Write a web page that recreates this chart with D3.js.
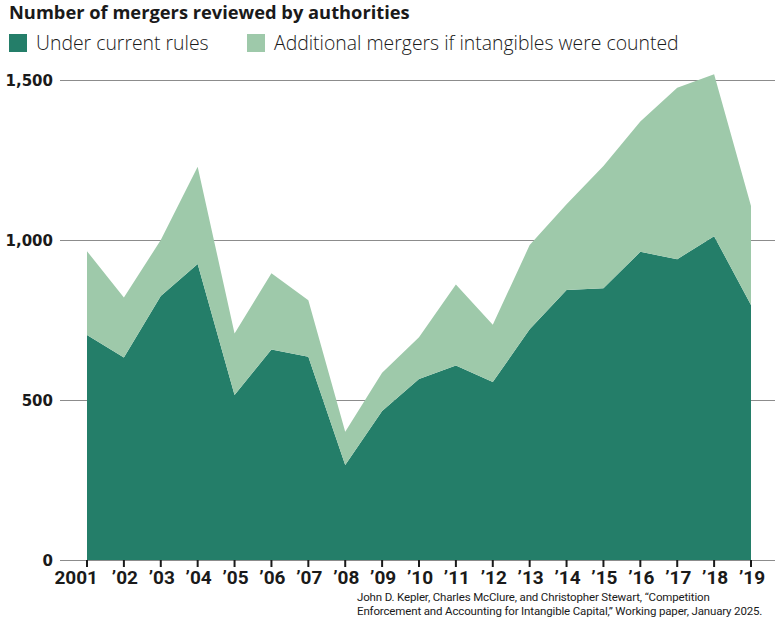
<!DOCTYPE html>
<html>
<head>
<meta charset="utf-8">
<script src="https://cdn.jsdelivr.net/npm/d3@7"></script>
<style>
  body { margin: 0; background: #fff; }
  svg { display: block; }
</style>
</head>
<body>
<script>
// years and values
const years = [2001, 2002, 2003, 2004, 2005, 2006, 2007, 2008, 2009, 2010,
               2011, 2012, 2013, 2014, 2015, 2016, 2017, 2018, 2019];
const current = [703, 633, 825, 925, 516, 658, 635, 297, 466, 566,
                 608, 556, 721, 844, 849, 963, 940, 1012, 797];
const additional = [262, 187, 175, 304, 192, 238, 177, 104, 119, 130,
                    253, 179, 263, 268, 382, 407, 536, 506, 309];
const yTicks = [0, 500, 1000, 1500];
const seriesNames = ['Under current rules', 'Additional mergers if intangibles were counted'];
const colors = ['#247e69', '#9ec9aa'];

const width = 775;
const height = 620;

const svg = d3.select('body').append('svg')
    .attr('width', width)
    .attr('height', height);

const x = d3.scaleLinear().domain([2001, 2019]).range([87, 751]);
const y = d3.scaleLinear().domain([0, 1500]).range([560, 80]);

// 网格线
svg.append('g')
    .selectAll('line')
    .data(yTicks)
    .enter().append('line')
    .attr('x1', 60)
    .attr('x2', width)
    .attr('y1', d => y(d) + 0.5)
    .attr('y2', d => y(d) + 0.5)
    .attr('stroke', '#8c8c8c')
    .attr('stroke-width', 1);

// stacked areas
const table = years.map((yr, i) => ({year: yr, current: current[i], additional: additional[i]}));
const stacked = d3.stack().keys(['current', 'additional'])(table);
const area = d3.area()
    .x(d => x(d.data.year))
    .y0(d => y(d[0]))
    .y1(d => y(d[1]));

svg.append('g')
    .selectAll('path')
    .data(stacked)
    .enter().append('path')
    .attr('fill', (d, i) => colors[i])
    .attr('d', area);

// y labels
svg.append('g')
    .selectAll('text')
    .data(yTicks)
    .enter().append('text')
    .attr('x', 53)
    .attr('y', d => y(d) + 6)
    .attr('text-anchor', 'end')
    .attr('font-family', 'DejaVu Sans')
    .attr('font-weight', 'bold')
    .attr('font-size', 15)
    .attr('fill', '#1a1a1a')
    .text(d3.format(','));

// x axis ticks
svg.append('g')
    .selectAll('line')
    .data(years)
    .enter().append('line')
    .attr('x1', d => x(d))
    .attr('x2', d => x(d))
    .attr('y1', 560)
    .attr('y2', 567)
    .attr('stroke', '#1a1a1a')
    .attr('stroke-width', 2);

svg.append('g')
    .selectAll('text')
    .data(years)
    .enter().append('text')
    .attr('x', (d, i) => i === 0 ? x(d) + 11 : x(d) + 1)
    .attr('y', 584)
    .attr('text-anchor', (d, i) => i === 0 ? 'end' : 'middle')
    .attr('font-family', 'Roboto')
    .attr('font-weight', 'bold')
    .attr('font-size', 19)
    .attr('fill', '#1a1a1a')
    .text((d, i) => i === 0 ? String(d) : '\u2019' + String(d).slice(2));

// title
svg.append('text')
    .attr('x', 9)
    .attr('y', 19)
    .attr('font-family', 'Open Sans')
    .attr('font-weight', 'bold')
    .attr('font-size', 18.3)
    .attr('fill', '#1a1a1a')
    .text('Number of mergers reviewed by authorities');

// legend
const legendX = [9, 247];
const lg = svg.append('g')
    .selectAll('g')
    .data(seriesNames)
    .enter().append('g')
    .attr('transform', (d, i) => `translate(${legendX[i]},34)`);
lg.append('rect')
    .attr('width', 18)
    .attr('height', 18)
    .attr('fill', (d, i) => colors[i]);
lg.append('text')
    .attr('x', 27)
    .attr('y', 16)
    .attr('font-family', 'Open Sans')
    .attr('font-weight', 300)
    .attr('font-size', 19.4)
    .attr('fill', '#1a1a1a')
    .text(d => d);

// source
const sourceLines = [
    'John D. Kepler, Charles McClure, and Christopher Stewart, \u201cCompetition',
    'Enforcement and Accounting for Intangible Capital,\u201d Working paper, January 2025.'
];
svg.append('g')
    .selectAll('text')
    .data(sourceLines)
    .enter().append('text')
    .attr('x', 357)
    .attr('y', (d, i) => 601 + i * 14)
    .attr('font-family', 'Roboto')
    .attr('font-size', 11.5)
    .attr('letter-spacing', -0.15)
    .attr('fill', '#1a1a1a')
    .text(d => d);
</script>
</body>
</html>
